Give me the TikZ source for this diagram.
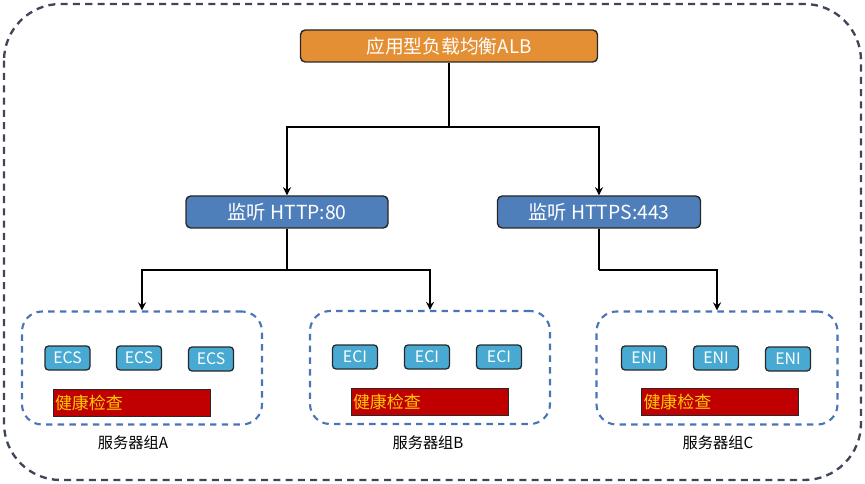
\documentclass[tikz,border=0pt]{standalone}
\usepackage{fontspec}
\setmainfont{Noto Sans CJK SC}
\usetikzlibrary{arrows.meta}
\definecolor{albor}{RGB}{228,143,52}
\definecolor{lisblue}{RGB}{79,127,186}
\definecolor{srvblue}{RGB}{72,170,210}
\definecolor{hcred}{RGB}{192,0,0}
\definecolor{hcyel}{RGB}{255,204,0}
\definecolor{grpblue}{RGB}{74,116,184}
\definecolor{outgray}{RGB}{62,70,88}
\definecolor{edgedark}{RGB}{40,40,40}
\newcommand{\fs}[1]{\fontsize{#1}{#1}\selectfont}
\begin{document}
\begin{tikzpicture}[x=0.03cm,y=-0.03cm,
  albbox/.style={draw=edgedark,line width=1.2pt,fill=albor,rounded corners=4pt,
    minimum width=297*0.03cm,minimum height=32*0.03cm,text=white,font=\fs{16pt},inner sep=0pt},
  lisbox/.style={draw=edgedark,line width=1.2pt,fill=lisblue,rounded corners=4pt,
    minimum width=202*0.03cm,minimum height=32*0.03cm,text=white,font=\fs{16.5pt},inner sep=0pt},
  grpbox/.style={draw=grpblue,line width=1.8pt,dash pattern=on 5.5pt off 4.5pt,rounded corners=0.6cm,
    minimum width=240*0.03cm,minimum height=113*0.03cm,inner sep=0pt},
  srvbox/.style={draw=edgedark,line width=1.1pt,fill=srvblue,rounded corners=3pt,
    minimum width=45*0.03cm,minimum height=24*0.03cm,text=white,font=\fs{13.5pt},inner sep=0pt},
  hcbox/.style={draw=edgedark,line width=0.8pt,fill=hcred,text=hcyel,font=\fs{14.5pt},
    minimum height=27*0.03cm,text width=153*0.03cm,inner xsep=2*0.03cm,inner ysep=0pt,align=left},
  grplabel/.style={font=\fs{13pt},text=black,inner sep=0pt},
  conn/.style={draw=black,line width=1.8pt},
  arr/.style={conn,-{Stealth[length=7pt,width=7pt,inset=2.5pt]}}
]
\useasboundingbox (0,0) rectangle (865,484);
% outer frame
\draw[outgray,line width=2pt,dash pattern=on 6pt off 4.5pt,rounded corners=1.7cm] (4,4) rectangle (861,480);

% ALB and listeners
\node[albbox] (alb) at (449,46) {应用型负载均衡ALB};
\node[lisbox] (l80) at (287,212) {监听 HTTP:80};
\node[lisbox,minimum width=203*0.03cm] (l443) at (599,212) {监听 HTTPS:443};

% groups
\node[grpbox] (gA) at (142,368) {};
\node[grpbox] (gB) at (430,367.5) {};
\node[grpbox,minimum width=241*0.03cm] (gC) at (717,368) {};

% servers
\node[srvbox] (a1) at (67.5,358) {ECS};
\node[srvbox] (a2) at (139,358) {ECS};
\node[srvbox] (a3) at (211,359) {ECS};
\node[srvbox] (b1) at (355,357) {ECI};
\node[srvbox] (b2) at (427,357) {ECI};
\node[srvbox] (b3) at (499,357) {ECI};
\node[srvbox] (c1) at (644,358) {ENI};
\node[srvbox] (c2) at (716,358) {ENI};
\node[srvbox] (c3) at (788,359) {ENI};

% health checks
\node[hcbox] (hA) at (131.5,402.5) {健康检查};
\node[hcbox] (hB) at (429.5,401.5) {健康检查};
\node[hcbox] (hC) at (720,401.5) {健康检查};

% group labels
\node[grplabel] (tA) at (133,443) {服务器组A};
\node[grplabel] (tB) at (428,443) {服务器组B};
\node[grplabel] (tC) at (718,443) {服务器组C};

% connectors
\coordinate (j1) at (449,127);
\coordinate (j2) at (287,270);
\coordinate (j3) at (599,270);
\draw[conn] (alb.south) -- (j1);
\draw[arr] (j1) -| (l80.north);
\draw[arr] (j1) -| (l443.north);
\draw[conn] (l80.south) -- (j2);
\draw[arr] (j2) -| (gA.north);
\draw[arr] (j2) -| (gB.north);
\draw[conn] (l443.south) -- (j3);
\draw[arr] (j3) -| (gC.north);
\end{tikzpicture}
\end{document}
